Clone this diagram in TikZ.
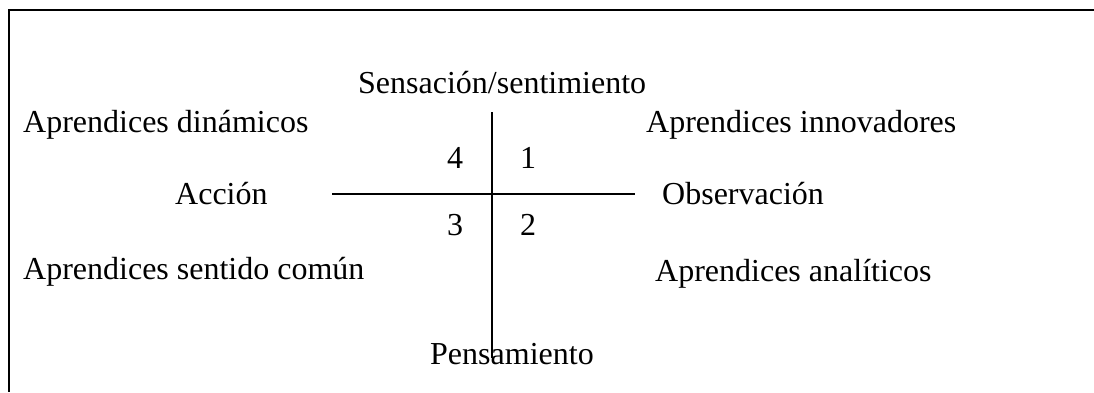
\documentclass[tikz,border=0pt]{standalone}
\usepackage{fontspec}
\setmainfont{Liberation Serif}
\begin{document}
\begin{tikzpicture}[x=1pt,y=-1pt,
  lbl/.style={anchor=base west,inner sep=0pt,font=\fontsize{32}{38}\selectfont},
  frameline/.style={line width=2.6pt},
  axisline/.style={line width=2pt}]
\useasboundingbox (0,0) rectangle (1094,392);
% frame (top and left edges)
\coordinate (ftr) at (1094,10);
\coordinate (ftl) at (9,10);
\coordinate (fbl) at (9,392);
\draw[frameline] (ftr) -- (ftl) -- (fbl);
% axes
\coordinate (vtop) at (492,112);
\coordinate (vbot) at (492,358);
\coordinate (hleft) at (332,194);
\coordinate (hright) at (635,194);
\draw[axisline] (vtop) -- (vbot);
\draw[axisline] (hleft) -- (hright);
% labels
\node[lbl] (sens) at (358,93) {Sensación/sentimiento};
\node[lbl] (din) at (23,132) {Aprendices dinámicos};
\node[lbl] (inn) at (646,132) {Aprendices innovadores};
\node[lbl] (q4) at (447,168) {4};
\node[lbl] (q1) at (520,168) {1};
\node[lbl] (acc) at (175,204) {Acción};
\node[lbl] (obs) at (662,204) {Observación};
\node[lbl] (q3) at (447,235) {3};
\node[lbl] (q2) at (520,235) {2};
\node[lbl] (sc) at (23,279) {Aprendices sentido común};
\node[lbl] (ana) at (655,281) {Aprendices analíticos};
\node[lbl] (pen) at (430,364) {Pensamiento};
\end{tikzpicture}
\end{document}
